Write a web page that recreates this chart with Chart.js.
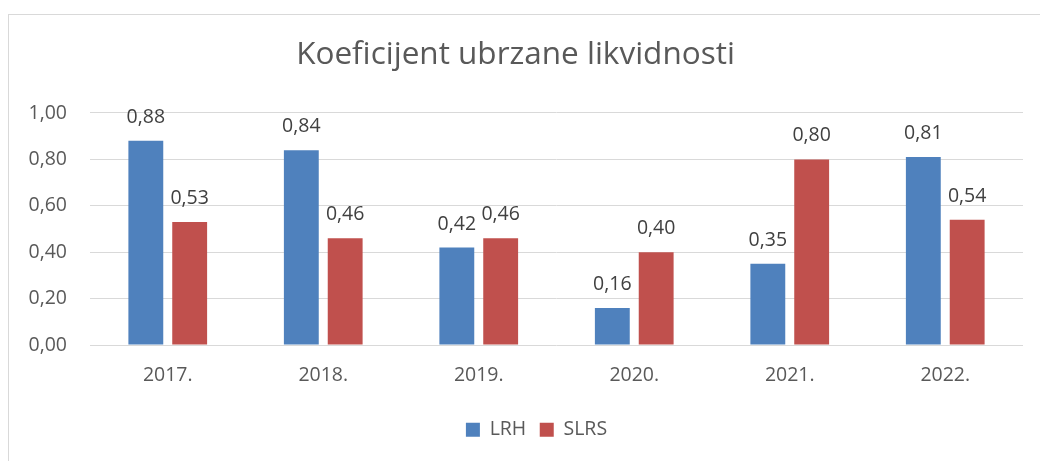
<!DOCTYPE html>
<html>
<head>
<meta charset="utf-8">
<script src="https://cdn.jsdelivr.net/npm/chart.js@4"></script>
<style>
  html, body { margin: 0; padding: 0; background: #ffffff; overflow: hidden; }
  #wrap { position: relative; width: 1040px; height: 461px; }
  #frame { position: absolute; left: 8px; top: 14px; width: 1100px; height: 500px; border: 1px solid #D9D9D9; box-sizing: border-box; }
  canvas { position: absolute; left: 0; top: 0; }
</style>
</head>
<body>
<div id="wrap">
  <div id="frame"></div>
  <canvas id="c" width="1040" height="461"></canvas>
</div>
<script>
const chartTitle = 'Koeficijent ubrzane likvidnosti';
const categories = ['2017.', '2018.', '2019.', '2020.', '2021.', '2022.'];
const seriesNames = ['LRH', 'SLRS'];
const lrhValues = [0.88, 0.84, 0.42, 0.16, 0.35, 0.81];
const slrsValues = [0.53, 0.46, 0.46, 0.40, 0.80, 0.54];
const yTicks = [0, 0.2, 0.4, 0.6, 0.8, 1.0];

const FONT = '"Open Sans"';
const fmt = v => v.toFixed(2).replace('.', ',');

const dataLabels = {
  id: 'dataLabels',
  afterDatasetsDraw(chart) {
    const ctx = chart.ctx;
    ctx.save();
    ctx.font = '19.5px ' + FONT;
    ctx.fillStyle = '#404040';
    ctx.textAlign = 'center';
    ctx.textBaseline = 'alphabetic';
    chart.data.datasets.forEach((ds, i) => {
      const meta = chart.getDatasetMeta(i);
      meta.data.forEach((el, j) => {
        ctx.fillText(fmt(ds.data[j]), el.x, el.y - 18);
      });
    });
    ctx.restore();
  }
};

const legendShift = {
  id: 'legendShift',
  afterLayout(chart) {
    if (chart.legend) { chart.legend.left += 21; chart.legend.right += 21; }
  }
};

new Chart(document.getElementById('c'), {
  type: 'bar',
  data: {
    labels: categories,
    datasets: [
      { label: seriesNames[0], data: lrhValues, backgroundColor: '#4F81BD', categoryPercentage: 0.564, barPercentage: 0.795 },
      { label: seriesNames[1], data: slrsValues, backgroundColor: '#C0504D', categoryPercentage: 0.564, barPercentage: 0.795 }
    ]
  },
  options: {
    responsive: false,
    animation: false,
    devicePixelRatio: 1,
    layout: { padding: { left: 8, right: 17, top: 0, bottom: 11.5 } },
    plugins: {
      title: {
        display: true,
        text: chartTitle,
        color: '#595959',
        font: { family: FONT, size: 31.5, weight: 'normal' },
        padding: { top: 36.4, bottom: 38.8 }
      },
      legend: {
        display: true,
        position: 'bottom',
        labels: {
          color: '#595959',
          font: { family: FONT, size: 19.5 },
          boxWidth: 14,
          boxHeight: 14,
          padding: 13.5
        }
      },
      tooltip: { enabled: false }
    },
    scales: {
      x: {
        grid: { display: false, drawTicks: false },
        border: { display: false },
        ticks: { color: '#595959', font: { family: FONT, size: 19.5 }, padding: 19 }
      },
      y: {
        min: 0, max: 1,
        afterFit(scale) { scale.width = 82; },
        afterBuildTicks(scale) { scale.ticks = yTicks.map(v => ({ value: v })); },
        grid: { color: '#D9D9D9', lineWidth: 1, drawTicks: false },
        border: { display: false },
        ticks: { color: '#595959', font: { family: FONT, size: 19.5 }, padding: 23, callback: v => fmt(v) }
      }
    }
  },
  plugins: [dataLabels, legendShift]
});
</script>
</body>
</html>
